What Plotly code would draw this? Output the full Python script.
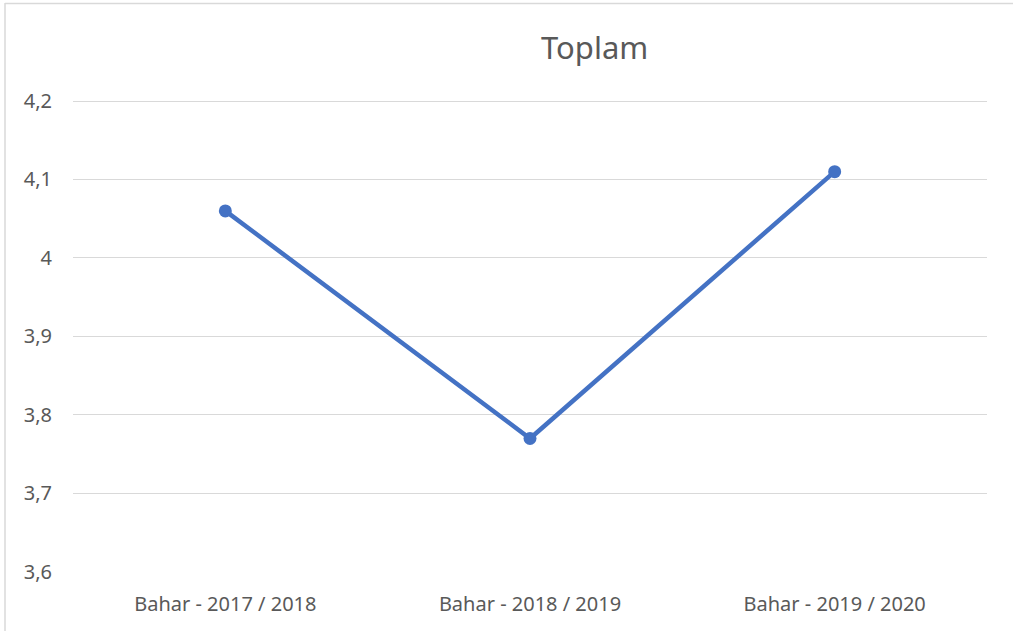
import plotly.graph_objects as go

categories = ["Bahar - 2017 / 2018", "Bahar - 2018 / 2019", "Bahar - 2019 / 2020"]
values = [4.06, 3.77, 4.11]
y_ticks = [3.6, 3.7, 3.8, 3.9, 4.0, 4.1, 4.2]
y_tick_labels = ["3,6", "3,7", "3,8", "3,9", "4", "4,1", "4,2"]
title_text = "Toplam"

W, H = 1013, 631
L, R, T, B = 73, 26, 93, 59
pw, ph = W - L - R, H - T - B
PX_PER_UNIT = 785.0
y_min = 3.6
y_max = y_min + ph / PX_PER_UNIT

def px(x):
    return (x - L) / pw

def py(y):
    return (H - B - y) / ph

fig = go.Figure()
fig.add_trace(go.Scatter(
    x=categories, y=values, mode="lines+markers",
    line=dict(color="#4472C4", width=4.5),
    marker=dict(color="#4472C4", size=13),
    hoverinfo="skip", showlegend=False,
))

font_family = "Noto Sans, sans-serif"
fig.update_layout(
    width=W, height=H,
    margin=dict(l=L, r=R, t=T, b=B),
    paper_bgcolor="white", plot_bgcolor="white",
    font=dict(family=font_family, color="#595959"),
    xaxis=dict(
        type="category", range=[-0.5, 2.5], showgrid=False, zeroline=False,
        showline=False, ticks="", tickfont=dict(size=20, color="#595959"),
        ticklabelstandoff=18,
    ),
    yaxis=dict(
        range=[y_min - 0.0001, y_max], tickvals=y_ticks, ticktext=y_tick_labels,
        showgrid=True, gridcolor="#D9D9D9", gridwidth=1.3, zeroline=False,
        showline=False, ticks="", tickfont=dict(size=20, color="#595959"),
        ticklabelstandoff=20,
    ),
    annotations=[dict(
        text=title_text, x=px(594), y=py(47), xref="paper", yref="paper",
        xanchor="center", yanchor="middle", showarrow=False,
        font=dict(size=31, color="#595959", family=font_family),
    )],
    shapes=[
        dict(type="line", xref="paper", yref="paper", x0=px(5), x1=px(5),
             y0=py(3), y1=py(H + 5), line=dict(color="#D9D9D9", width=1.5)),
        dict(type="line", xref="paper", yref="paper", x0=px(5), x1=px(W + 5),
             y0=py(3.5), y1=py(3.5), line=dict(color="#D9D9D9", width=1.5)),
    ],
)

fig.write_html("out.html", config={"displayModeBar": False},
               post_script="document.body.style.margin='0';")
